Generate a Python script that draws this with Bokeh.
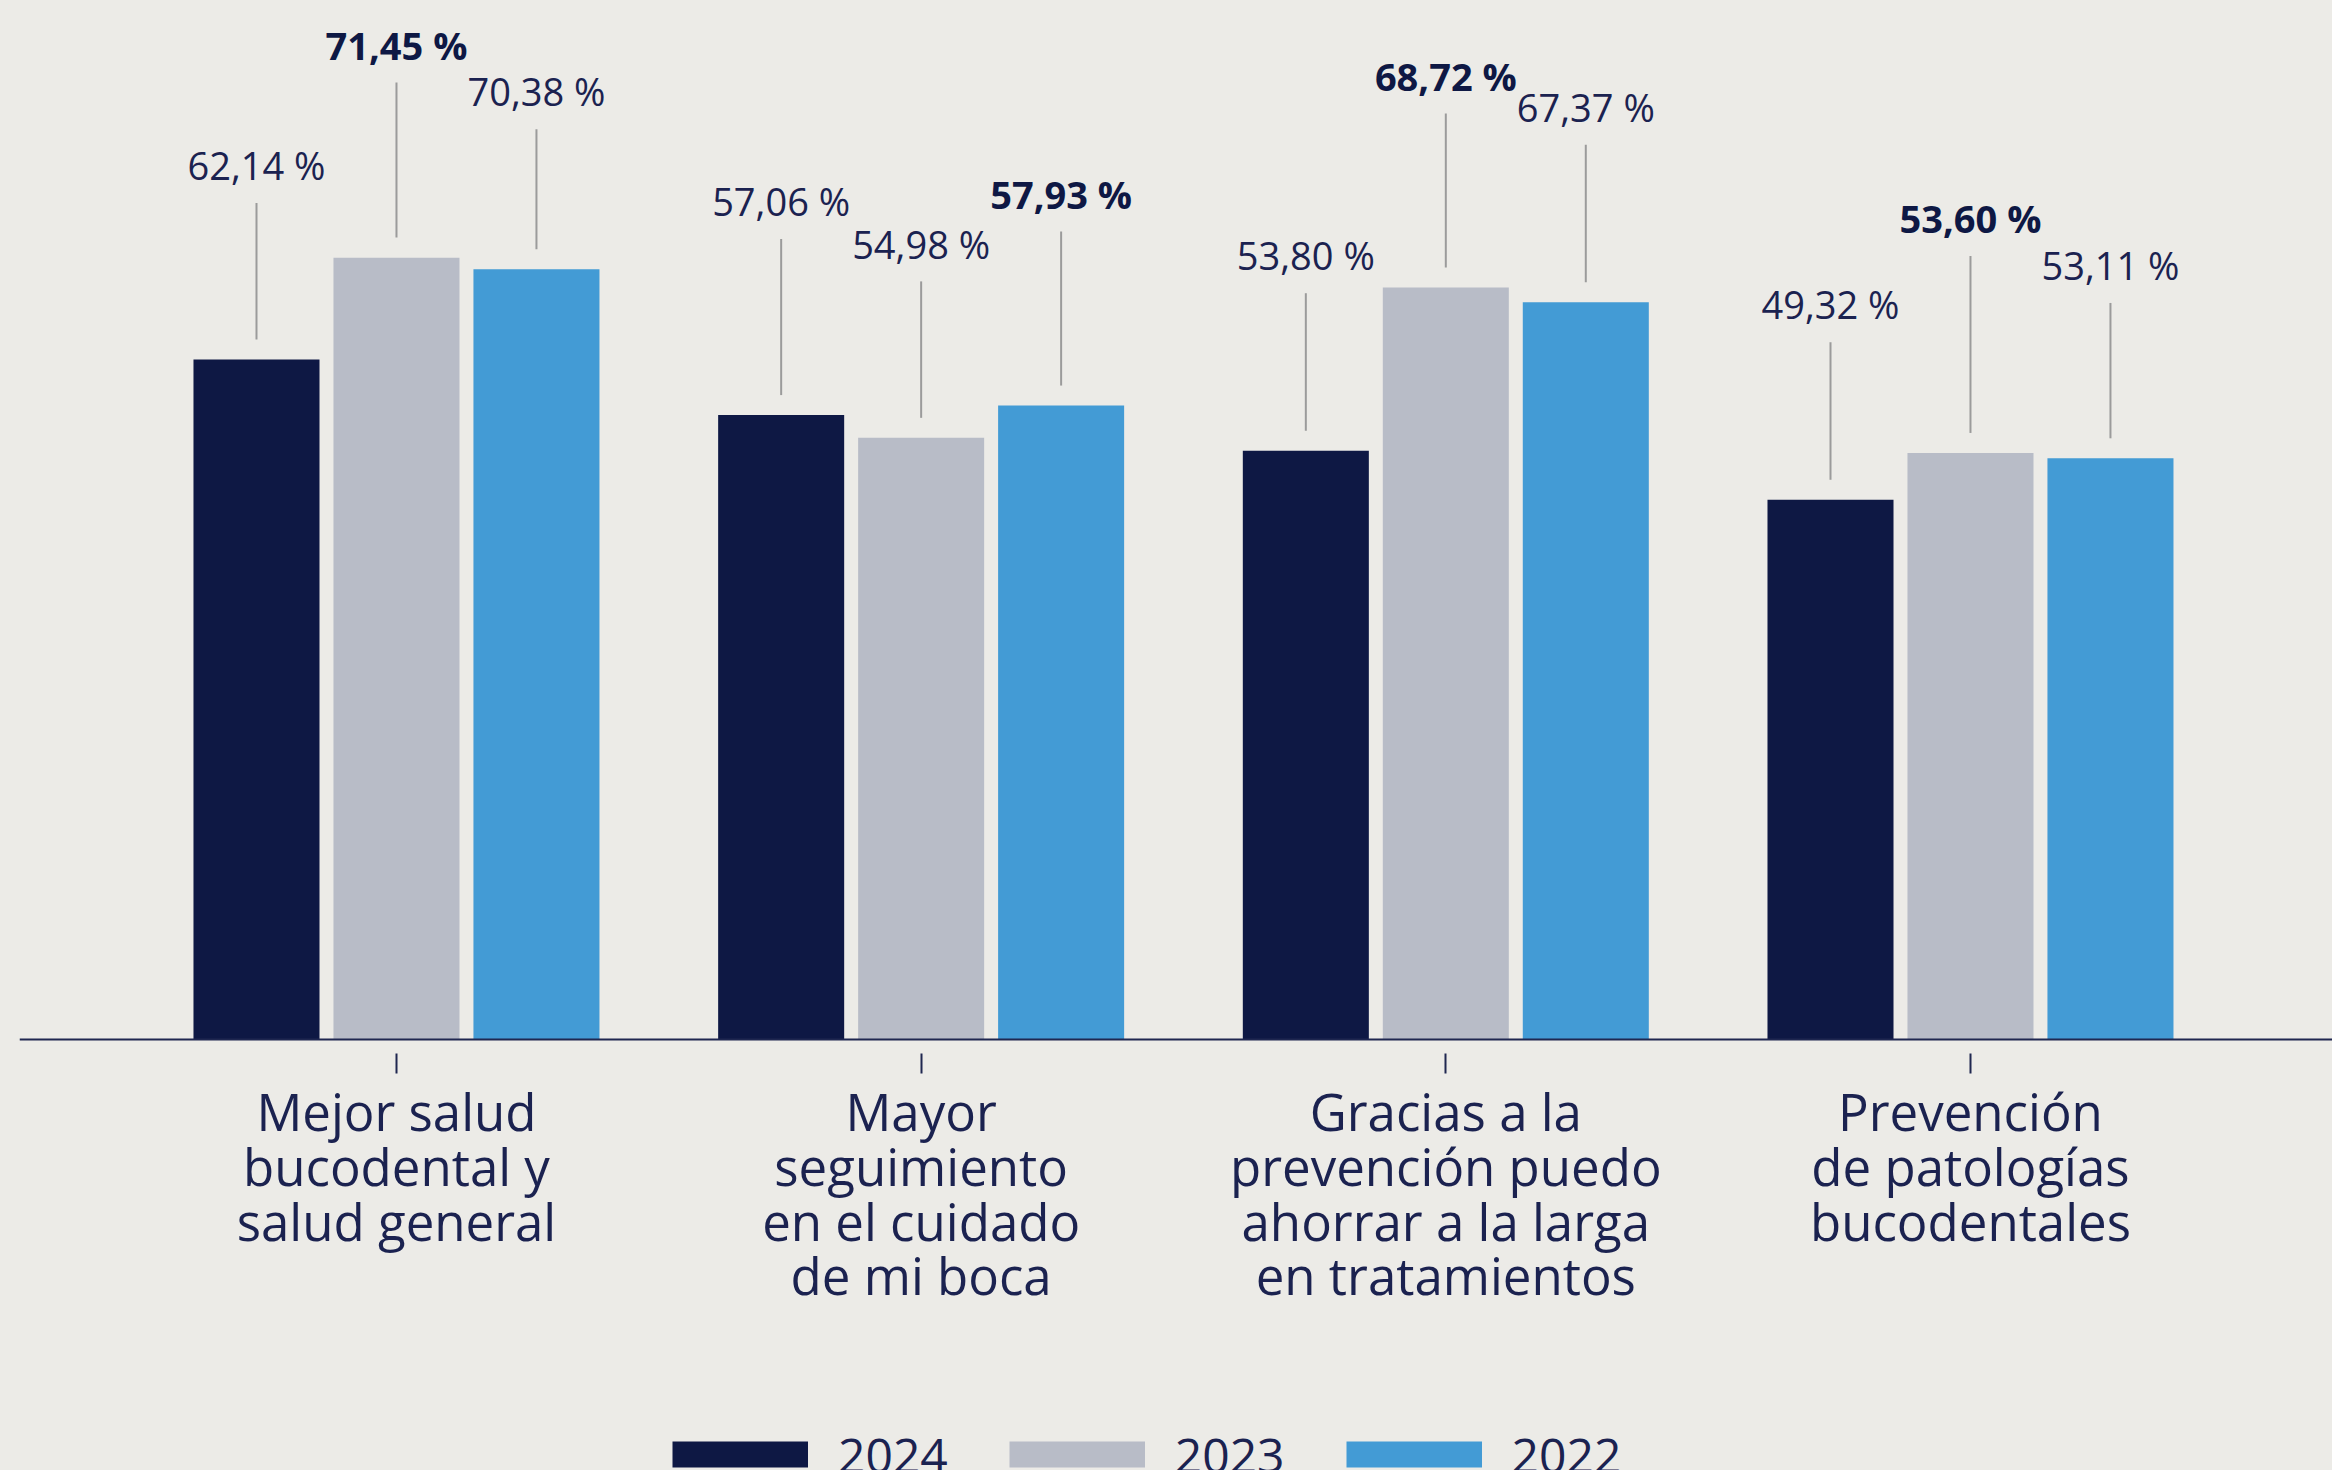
from bokeh.plotting import figure
from bokeh.models import ColumnDataSource, FixedTicker, GlobalInlineStyleSheet, Legend, LegendItem
from bokeh.core.properties import value, field
from bokeh.embed import file_html
from bokeh.resources import INLINE

# ---------------- data ----------------
categories = [
    "Mejor salud\nbucodental y\nsalud general",
    "Mayor\nseguimiento\nen el cuidado\nde mi boca",
    "Gracias a la\nprevención puedo\nahorrar a la larga\nen tratamientos",
    "Prevención\nde patologías\nbucodentales",
]
years = ["2024", "2023", "2022"]
values_2024 = [62.14, 57.06, 53.80, 49.32]
values_2023 = [71.45, 54.98, 68.72, 53.60]
values_2022 = [70.38, 57.93, 67.37, 53.11]

# callout label height above each bar (percentage points) – staggering of labels
lift_2024 = [16.3, 18.1, 16.4, 16.4]
lift_2023 = [18.0, 16.3, 17.9, 20.0]
lift_2022 = [14.8, 17.9, 16.4, 16.2]

# ---------------- style ----------------
BG = "#ECEBE7"
NAVY = "#0E1844"
TEXT = "#1B2250"
colors = ["#0E1844", "#B8BCC7", "#439BD5"]
FONT = "Open Sans"

series = [values_2024, values_2023, values_2022]
lifts = [lift_2024, lift_2023, lift_2022]
offsets = [-0.2668, 0.0, 0.2668]
bar_w = 0.2402
x_idx = list(range(len(categories)))

p = figure(
    width=2332, height=1470,
    x_range=(-0.7185, 3.690), y_range=(-39.39, 94.95),
    output_backend="svg", toolbar_location=None,
    y_axis_location=None,
    min_border_left=19, min_border_right=0, min_border_top=0, min_border_bottom=0,
    background_fill_color=BG, border_fill_color=BG, outline_line_color=None,
)
p.grid.visible = False
p.stylesheets = [GlobalInlineStyleSheet(css="html, body { background-color: #ECEBE7 !important; margin: 0; overflow: hidden; }")]

legend_items = []
for k in range(3):
    src = ColumnDataSource(dict(x=[i + offsets[k] for i in x_idx], top=series[k]))
    bars = p.vbar(x="x", top="top", bottom=0, width=bar_w, source=src,
                  fill_color=colors[k], line_color=None)
    # legend key: a thick band in the series colour (renderer itself hidden)
    key = p.line(x="x", y="top", source=src, line_color=colors[k], line_width=26)
    key.visible = False
    legend_items.append(LegendItem(label=years[k], renderers=[key]))

# callouts
lx, ly, y0s, y1s, txt, sty, col = [], [], [], [], [], [], []
gap_bar = 1.83   # space between bar top and leader line
gap_txt = 2.0    # space between label baseline and leader line
for k in range(3):
    for i in x_idx:
        v = series[k][i]
        ytxt = v + lifts[k][i]
        is_max = v == max(s[i] for s in series)
        lx.append(i + offsets[k])
        ly.append(ytxt)
        y0s.append(v + gap_bar)
        y1s.append(ytxt - gap_txt)
        txt.append(f"{v:.2f}".replace(".", ",") + " %")
        sty.append("bold" if is_max else "normal")
        col.append(NAVY if is_max else TEXT)

csrc = ColumnDataSource(dict(x=lx, y=ly, y0=y0s, y1=y1s, text=txt, style=sty, color=col))
p.segment(x0="x", y0="y0", x1="x", y1="y1", source=csrc, line_color="#9B9B9B", line_width=2)
p.text(x="x", y="y", text="text", source=csrc,
       text_font=value(FONT), text_font_size="38px",
       text_font_style=field("style"), text_color=field("color"),
       text_align="center", text_baseline="alphabetic", y_offset=-16)

# x axis (drawn at y = 0 inside the frame)
ax = p.xaxis[0]
ax.fixed_location = 0
ax.ticker = FixedTicker(ticks=x_idx)
ax.major_label_overrides = {i: c for i, c in enumerate(categories)}
ax.axis_line_color = "#1F2750"
ax.axis_line_width = 2
ax.major_tick_line_color = "#1F2750"
ax.major_tick_line_width = 2
ax.major_tick_in = -14
ax.major_tick_out = 34
ax.minor_tick_line_color = None
ax.major_label_standoff = 3
ax.major_label_text_font = FONT
ax.major_label_text_font_size = "51px"
ax.major_label_text_color = TEXT
ax.major_label_text_line_height = 0.78

# legend
lg = Legend(items=legend_items, location=(653, -20), orientation="horizontal",
            glyph_width=136, glyph_height=72, label_height=72,
            label_standoff=30, spacing=61, padding=0, margin=0,
            border_line_color=None, background_fill_alpha=0,
            label_text_font=FONT, label_text_font_size="48px",
            label_text_color=TEXT, label_text_baseline="middle")
p.add_layout(lg)

open("out.html", "w").write(file_html(p, INLINE))
